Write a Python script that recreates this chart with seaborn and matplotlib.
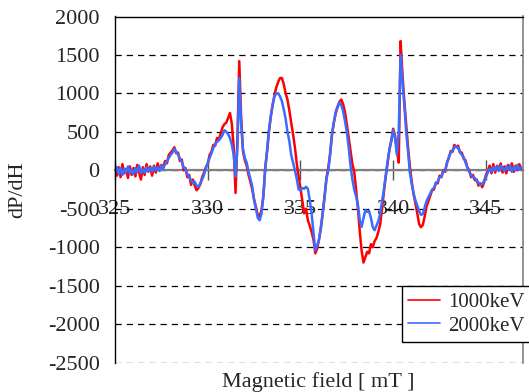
import numpy as np
import pandas as pd
import matplotlib
matplotlib.use("Agg")
import matplotlib.pyplot as plt
import seaborn as sns

# Magnetic field positions (mT), 0.1 mT steps from 325.0 to 347.0
field = np.round(np.arange(3250, 3471) / 10.0, 1)

# dP/dH, 1000 keV (red)
red_1000kev = [
    60, -70, 40, -90, 80, -40, 20, -100, 50, -60,
    30, -80, 70, -30, -120, 40, -60, 80, -20, 50,
    -70, 60, -30, 90, 0, 70, 40, 120, 90, 200,
    230, 260, 300, 220, 230, 120, 140, 0, 30, -90,
    -60, -190, -120, -200, -260, -230, -180, -90, -30, 40,
    80, 200, 240, 330, 320, 420, 400, 480, 560, 600,
    620, 680, 745, 600, 300, -295, 400, 1420, 700, 250,
    130, 60, -60, -150, -250, -380, -480, -580, -600, -520,
    -330, 30, 250, 500, 700, 850, 980, 1080, 1150, 1200,
    1200, 1120, 1000, 920, 780, 620, 470, 300, 90, -80,
    -230, -400, -560, -500, -650, -720, -800, -900, -1080, -1020,
    -900, -760, -560, -340, -100, 30, 220, 460, 620, 740,
    820, 890, 920, 860, 760, 600, 430, 250, 80, -20,
    -250, -500, -800, -1050, -1200, -1130, -1060, -1080, -960, -1000,
    -920, -880, -800, -700, -500, -280, -80, 100, 270, 390,
    540, 450, 260, 100, 1680, 1250, 900, 600, 300, 50,
    -150, -310, -430, -560, -700, -740, -710, -600, -470, -400,
    -330, -260, -250, -160, -170, -70, -90, 0, -20, 100,
    160, 250, 240, 330, 300, 320, 230, 230, 150, 130,
    40, 0, -90, -60, -130, -120, -200, -170, -220, -160,
    -60, -20, 60, -40, 80, -30, 60, 20, 90, -30,
    50, -40, 70, 10, 90, -20, 60, 0, 80, 30,
    0,
]

# dP/dH, 2000 keV (blue)
blue_2000kev = [
    -20, 40, -50, 30, -60, 20, -30, 50, -40, 10,
    -50, 30, -20, 60, -40, 10, -30, 40, -10, 30,
    -20, 50, 0, 40, -10, 60, 20, 80, 110, 160,
    200, 230, 280, 240, 210, 150, 110, 40, 20, -50,
    -90, -130, -165, -150, -200, -215, -170, -120, -60, 30,
    95, 160, 220, 290, 340, 370, 390, 420, 460, 520,
    500, 470, 420, 330, 200, -85, 300, 1200, 600, 280,
    160, 100, -20, -110, -210, -390, -500, -620, -650, -560,
    -340, 10, 250, 520, 700, 850, 960, 1000, 1000, 960,
    900, 790, 670, 500, 380, 200, 100, 0, -110, -250,
    -260, -230, -240, -215, -240, -390, -560, -800, -1040, -980,
    -900, -735, -560, -350, -120, 0, 200, 480, 620, 760,
    830, 880, 850, 770, 640, 500, 300, 60, -120, -250,
    -340, -450, -650, -735, -620, -520, -540, -530, -620, -740,
    -780, -720, -660, -560, -400, -250, -60, 120, 280, 380,
    520, 420, 200, 500, 1500, 1150, 850, 500, 250, -30,
    -180, -300, -390, -460, -530, -580, -570, -480, -400, -350,
    -300, -250, -230, -170, -150, -90, -80, -20, 0, 90,
    170, 230, 260, 300, 310, 290, 240, 200, 170, 100,
    30, -20, -60, -90, -100, -140, -160, -190, -180, -140,
    -90, -30, 20, -20, 40, 0, 50, -10, 60, 20,
    -10, 50, 10, 60, -20, 40, 0, 70, 10, 40,
    20,
]

series_names = ["1000keV", "2000keV"]
series_colors = ["#ff0000", "#3a6cff"]
x_ticks = [325, 330, 335, 340, 345]
y_ticks = [-2500, -2000, -1500, -1000, -500, 0, 500, 1000, 1500, 2000]

df = pd.concat([
    pd.DataFrame({"field": field, "value": red_1000kev, "beam": series_names[0]}),
    pd.DataFrame({"field": field, "value": blue_2000kev, "beam": series_names[1]}),
], ignore_index=True)

sns.set_style("white")
plt.rcParams["font.family"] = ["Liberation Serif", "DejaVu Serif"]

W, H = 529, 392
fig = plt.figure(figsize=(W / 100, H / 100), dpi=100)
ax = fig.add_axes([115 / W, 1 - 362.5 / H, (523 - 115) / W, (362.5 - 16.5) / H])

sns.lineplot(data=df, x="field", y="value", hue="beam",
             palette=dict(zip(series_names, series_colors)),
             estimator=None, sort=False, linewidth=1.8, ax=ax, legend=True)

ax.set_xlim(325, 347)
ax.set_ylim(-2500, 2000)
ax.set_xticks(x_ticks)
ax.set_yticks(y_ticks)
ax.set_xticklabels([str(t) for t in x_ticks])
ax.set_yticklabels([str(t) for t in y_ticks])

ax.grid(axis="y", color="black", linestyle=(0, (5, 4)), linewidth=0.9)
ax.grid(axis="x", visible=False)
ax.set_axisbelow(True)

ax.spines["bottom"].set_position(("data", 0))
ax.spines["bottom"].set_color("#808080")
ax.spines["bottom"].set_linewidth(1.6)
ax.spines["bottom"].set_zorder(1.5)
ax.spines["left"].set_color("black")
ax.spines["left"].set_linewidth(1.0)
ax.spines["top"].set_color("black")
ax.spines["top"].set_linewidth(1.0)
ax.spines["right"].set_color("#808080")
ax.spines["right"].set_linewidth(1.2)
for s in ax.spines.values():
    s.set_visible(True)

ax.tick_params(axis="x", direction="inout", length=14, width=1.0,
               color="#555555", pad=14.5, labelsize=16, bottom=True)
ax.tick_params(axis="y", length=0, pad=11, labelsize=16, left=True)

ax.set_xlabel("")
ax.set_ylabel("")
fig.text(18 / W, 1 - 190 / H, "dP/dH", rotation=90, fontsize=16,
         ha="center", va="center")
fig.text(318 / W, 1 - 382 / H, "Magnetic field [ mT ]", fontsize=16,
         ha="center", va="center")

handles, labels = ax.get_legend_handles_labels()
ax.legend(handles, labels, loc="upper left",
          bbox_to_anchor=(402 / W, 1 - 286 / H), bbox_transform=fig.transFigure,
          borderaxespad=0, frameon=True, fancybox=False, framealpha=1,
          edgecolor="black", fontsize=15, handlelength=1.5, handletextpad=0.4,
          labelspacing=0.2, borderpad=0.3)
leg = ax.get_legend()
leg.get_frame().set_linewidth(1.0)
for ln in leg.get_lines():
    ln.set_linewidth(1.2)

fig.savefig("out.png", dpi=100)
